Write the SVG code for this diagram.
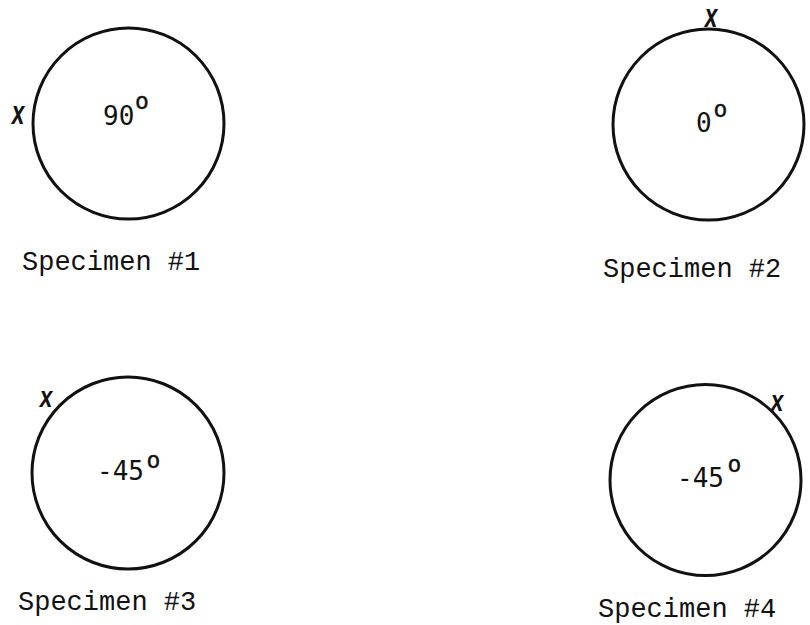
<svg xmlns="http://www.w3.org/2000/svg" width="810" height="625" viewBox="0 0 810 625">
<style>
.c{fill:none;stroke:#111;stroke-width:3}
.ang{font-family:"DejaVu Sans Mono",monospace;font-size:26px;fill:#111}
.deg{font-family:"DejaVu Sans Mono",monospace;font-size:23px;fill:#111;stroke:#111;stroke-width:0.4}
.lbl{font-family:"Liberation Mono","Courier New",monospace;font-size:27px;fill:#111}
.x{font-family:"Liberation Sans",Arial,sans-serif;font-size:24px;font-weight:bold;font-style:italic;fill:#111;text-anchor:middle}
</style>
<rect width="810" height="625" fill="#fff"/>
<g id="specimen1">
<circle class="c" cx="128.5" cy="123.5" r="95.5"/>
<text class="x" transform="translate(18,116) scale(0.95,1.35)" x="0" y="6.2">x</text>
<text class="ang" x="103" y="125">90<tspan class="deg" x="135" y="108.5">o</tspan></text>
<text class="lbl" x="22" y="270">Specimen #1</text>
</g>
<g id="specimen2">
<circle class="c" cx="708.5" cy="124.5" r="95.5"/>
<text class="x" transform="translate(711,19) scale(0.95,1.35)" x="0" y="6.2">x</text>
<text class="ang" x="696" y="131.5">0<tspan class="deg" x="713.6" y="117">o</tspan></text>
<text class="lbl" x="603" y="277">Specimen #2</text>
</g>
<g id="specimen3">
<circle class="c" cx="128" cy="473" r="96"/>
<text class="x" transform="translate(46,400) scale(0.95,1.2)" x="0" y="6.2">x</text>
<text class="ang" x="97" y="480">-45<tspan class="deg" x="146.6" y="467.5">o</tspan></text>
<text class="lbl" x="18" y="610">Specimen #3</text>
</g>
<g id="specimen4">
<circle class="c" cx="705.5" cy="480" r="95.5"/>
<text class="x" transform="translate(777,404) scale(0.95,1.2)" x="0" y="6.2">x</text>
<text class="ang" x="677" y="487">-45<tspan class="deg" x="727.6" y="471.5">o</tspan></text>
<text class="lbl" x="598" y="617">Specimen #4</text>
</g>
<g id="connectors"/>
</svg>
